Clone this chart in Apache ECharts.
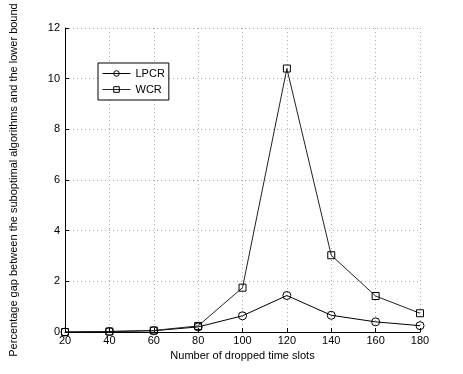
<!DOCTYPE html>
<html>
<head>
<meta charset="utf-8">
<script src="https://cdn.jsdelivr.net/npm/echarts@6/dist/echarts.min.js"></script>
<style>
  html, body { margin: 0; padding: 0; background: #fff; }
  #chart { width: 463px; height: 374px; }
</style>
</head>
<body>
<div id="chart"></div>
<script>
  // 数据
  const slots = [20, 40, 60, 80, 100, 120, 140, 160, 180]
  const lpcr = [0, 0.02, 0.05, 0.2, 0.64, 1.44, 0.66, 0.40, 0.25]
  const wcr = [0, 0.02, 0.06, 0.24, 1.75, 10.4, 3.03, 1.42, 0.74]

  const font = 'Liberation Sans, Arial, sans-serif'
  const gridLine = { show: true, lineStyle: { color: '#aaa', type: [1, 3], width: 1 } }

  const chart = echarts.init(document.getElementById('chart'))
  chart.setOption({
    animation: false,
    backgroundColor: '#fff',
    grid: { left: 60, right: 43, top: 28, bottom: 42 },
    legend: {
      left: 98, top: 63,
      orient: 'vertical',
      backgroundColor: '#fff',
      borderColor: '#000', borderWidth: 1,
      padding: [5, 4, 5, 4],
      itemGap: 5,
      itemWidth: 28, itemHeight: 7,
      lineStyle: { width: 1 },
      itemStyle: { borderWidth: 1, color: 'rgba(255,255,255,0)' },
      textStyle: { fontFamily: font, fontSize: 11, color: '#000' },
      data: ['LPCR', 'WCR']
    },
    xAxis: {
      type: 'value',
      min: 20, max: 180, interval: 20,
      name: 'Number of dropped time slots',
      nameLocation: 'middle', nameGap: 16,
      nameTextStyle: { fontFamily: font, fontSize: 11, color: '#000' },
      axisLine: { lineStyle: { color: '#000' } },
      axisTick: { inside: true, length: 4, lineStyle: { color: '#000' } },
      axisLabel: { fontFamily: font, fontSize: 11, color: '#000', margin: 3 },
      splitLine: gridLine
    },
    yAxis: {
      type: 'value',
      min: 0, max: 12, interval: 2,
      name: 'Percentage gap between the suboptimal algorithms and the lower bound',
      nameLocation: 'middle', nameGap: 46,
      nameTextStyle: { fontFamily: font, fontSize: 11, color: '#000' },
      axisLine: { show: true, lineStyle: { color: '#000' } },
      axisTick: { show: true, inside: true, length: 4, lineStyle: { color: '#000' } },
      axisLabel: { fontFamily: font, fontSize: 11, color: '#000', margin: 5 },
      splitLine: gridLine
    },
    series: [
      {
        name: 'LPCR', type: 'line',
        data: slots.map((s, i) => [s, lpcr[i]]),
        symbol: 'circle', symbolSize: 8,
        lineStyle: { color: '#000', width: 1 },
        itemStyle: { color: 'rgba(255,255,255,0)', borderColor: '#000', borderWidth: 1 }
      },
      {
        name: 'WCR', type: 'line',
        data: slots.map((s, i) => [s, wcr[i]]),
        symbol: 'rect', symbolSize: 7,
        lineStyle: { color: '#222', width: 1 },
        itemStyle: { color: 'rgba(255,255,255,0)', borderColor: '#000', borderWidth: 1 }
      }
    ]
  })
</script>
</body>
</html>
